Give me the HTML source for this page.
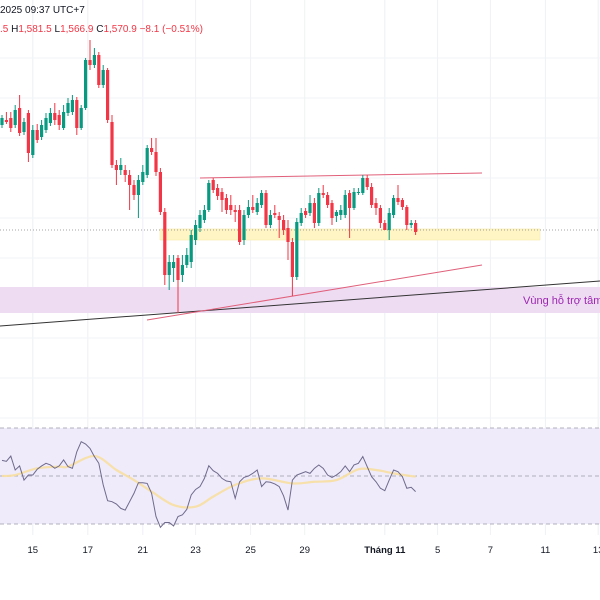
<!DOCTYPE html>
<html><head><meta charset="utf-8">
<style>
html,body{margin:0;padding:0;background:#fff;}
body{width:600px;height:600px;overflow:hidden;font-family:"Liberation Sans",sans-serif;}
svg{display:block}
</style></head>
<body>
<svg id="chart" width="600" height="600" viewBox="0 0 600 600" xmlns="http://www.w3.org/2000/svg">
  <rect x="0" y="0" width="600" height="600" fill="#ffffff"/>
  <g id="grid"></g>
  <rect x="0" y="287" width="600" height="26" fill="#eedcf3"/>
  <text x="523" y="304" font-size="11" fill="#9c27b0">Vùng hỗ trợ tâm</text>
  <rect x="160" y="229" width="380" height="11" fill="#fff5c4" stroke="#f5e9a8" stroke-width="0.6"/>
  <line x1="0" y1="230" x2="600" y2="230" stroke="#888" stroke-width="0.8" stroke-dasharray="1,2"/>
  <line x1="0" y1="326" x2="600" y2="281" stroke="#333" stroke-width="1"/>
  <line x1="147" y1="320" x2="482" y2="265" stroke="#e0607a" stroke-width="1"/>
  <line x1="200" y1="178" x2="482" y2="173" stroke="#e0607a" stroke-width="1"/>
  <g id="candles"></g>
  <text x="0" y="13" font-size="10" fill="#131722">2025 09:37 UTC+7</text>
  <text x="0" y="32" font-size="10" fill="#131722"><tspan fill="#f23645">.5</tspan>  H<tspan fill="#f23645">1,581.5</tspan>  L<tspan fill="#f23645">1,566.9</tspan>  C<tspan fill="#f23645">1,570.9</tspan>  <tspan fill="#f23645">−8.1 (−0.51%)</tspan></text>
  <rect x="0" y="428" width="600" height="96" fill="#efebfa"/>
  <g id="rsi"></g>
  <g id="xaxis"></g>
</svg>
<script>
const opens=[1675,1680,1682,1675,1692,1668,1687,1645,1670,1663,1670,1677,1687,1685,1672,1687,1688,1700,1672,1692,1740,1735,1745,1715,1730,1678,1635,1630,1630,1625,1615,1605,1618,1625,1652,1648,1628,1588,1525,1532,1542,1525,1535,1538,1560,1572,1580,1590,1620,1612,1608,1602,1595,1590,1590,1560,1585,1593,1588,1595,1607,1575,1587,1584,1580,1572,1558,1523,1577,1589,1587,1597,1577,1607,1605,1597,1584,1585,1585,1607,1592,1607,1607,1622,1613,1597,1592,1577,1570,1585,1602,1600,1593,1575,1577];
const closes=[1682,1678,1672,1690,1667,1678,1647,1670,1660,1675,1682,1687,1680,1675,1688,1697,1700,1672,1692,1740,1735,1745,1715,1730,1680,1635,1630,1635,1625,1615,1605,1620,1628,1652,1648,1628,1588,1525,1538,1538,1520,1535,1545,1565,1575,1585,1590,1617,1610,1604,1600,1590,1590,1588,1558,1585,1593,1590,1597,1607,1575,1585,1585,1580,1570,1558,1523,1578,1587,1585,1597,1577,1607,1605,1595,1582,1588,1590,1605,1592,1608,1608,1622,1613,1595,1592,1577,1570,1587,1602,1598,1593,1575,1577,1568];
const highs=[1685,1688,1688,1695,1705,1682,1690,1675,1676,1680,1687,1692,1697,1690,1695,1702,1705,1703,1695,1742,1760,1752,1748,1735,1732,1685,1640,1642,1635,1630,1620,1625,1635,1655,1662,1662,1632,1592,1545,1545,1545,1545,1552,1570,1580,1590,1595,1620,1622,1616,1612,1606,1605,1595,1595,1590,1600,1605,1602,1610,1610,1590,1595,1588,1585,1580,1562,1582,1592,1592,1605,1602,1612,1615,1608,1600,1590,1595,1610,1610,1612,1612,1625,1625,1617,1602,1595,1580,1592,1605,1615,1602,1595,1580,1580];
const lows=[1672,1676,1668,1672,1664,1665,1638,1642,1657,1660,1667,1674,1675,1670,1670,1684,1685,1665,1670,1690,1730,1732,1712,1712,1677,1632,1615,1625,1618,1590,1600,1582,1615,1622,1645,1624,1585,1515,1510,1518,1487,1518,1532,1532,1555,1568,1577,1588,1607,1600,1588,1586,1585,1578,1555,1555,1582,1587,1585,1592,1572,1572,1582,1562,1565,1540,1504,1520,1574,1582,1584,1572,1574,1602,1592,1575,1578,1580,1582,1562,1590,1605,1605,1610,1592,1585,1572,1570,1560,1582,1595,1590,1570,1572,1565];
const rsiValues=[56.5,56.1,58.3,52.5,54.2,48.3,50.4,50.4,52.8,54.2,55.3,54.6,53.2,54.2,56.7,53.9,53.2,60.1,64.3,63.3,61.5,58.1,55.3,46.3,39.7,39.3,38.3,36.5,35.8,39.3,42.8,47.2,47.2,46.9,42.8,33.1,28.6,30.6,30.6,29.2,33.1,33.8,36.1,42.1,44.4,45.6,49.0,54.3,52.2,51.1,49.0,47.9,47.6,40.7,47.6,49.4,50.0,51.1,52.5,45.6,47.6,47.4,46.7,45.6,41.7,35.8,48.3,50.4,51.1,51.8,51.1,53.2,54.6,53.2,50.4,49.4,50.4,51.8,54.2,51.8,54.6,55.3,58.1,53.9,49.7,47.6,44.9,43.9,48.3,52.5,51.8,49.7,44.9,45.3,43.5];
const maIdx=[0,3,8,13,15,21,26,30,34,39,44,48,53,59,66,71,76,81,85,89,94];
const maValues=[50,50.4,53.2,53.9,53.9,58.3,52.5,48.3,43.5,37.9,37.2,41.4,46.3,49.0,46.9,47.6,48.3,52.8,52.5,51.1,49.7];
const rsiLevels=[70,50,30];
const tickLabels=["15","17","21","23","25","29","Tháng 11","5","7","11","13"];
const tickIdx=[7,19.5,32,44,56.5,68.8,87,99,111,123.5,135.5];

const NS="http://www.w3.org/2000/svg";
const xScale=i=>2+i*4.4;
const yScale=p=>1800-p;
const rsiY=v=>476-(v-50)*2.4;
function mk(tag,attrs,parent){const e=document.createElementNS(NS,tag);for(const k in attrs)e.setAttribute(k,attrs[k]);parent.appendChild(e);return e;}

const grid=document.getElementById('grid');
tickIdx.forEach((t,k)=>{
  const l=mk('line',{x1:xScale(t),x2:xScale(t),y1:0,y2:535,stroke:'#eef0f4','stroke-width':1},grid);
  
  
});
for(let y=58;y<=418;y+=40){
  const l=mk('line',{x1:0,x2:600,y1:y,y2:y,stroke:'#f2f3f6','stroke-width':1},grid);
  
  
}

const cg=document.getElementById('candles');
opens.forEach((o,i)=>{
  const c=closes[i],up=c>=o,col=up?'#089981':'#f23645',x=xScale(i);
  const g=mk('g',{},cg);
  
  
  mk('line',{x1:x,x2:x,y1:yScale(highs[i]),y2:yScale(lows[i]),stroke:col,'stroke-width':1},g);
  const top=yScale(Math.max(o,c)),h=Math.max(1,Math.abs(o-c));
  mk('rect',{x:x-1.6,y:top,width:3.2,height:h,fill:col},g);
});

const rg=document.getElementById('rsi');
rsiLevels.forEach(v=>{
  const l=mk('line',{x1:0,x2:600,y1:rsiY(v),y2:rsiY(v),stroke:'#9a98a8','stroke-width':0.8,'stroke-dasharray':'4,3'},rg);
  
  
});
// MA smooth curve (catmull-rom)
const mp=maIdx.map((t,k)=>[xScale(t),rsiY(maValues[k])]);
let d='M'+mp[0][0]+','+mp[0][1];
for(let k=0;k<mp.length-1;k++){
  const p0=mp[Math.max(0,k-1)],p1=mp[k],p2=mp[k+1],p3=mp[Math.min(mp.length-1,k+2)];
  const c1=[p1[0]+(p2[0]-p0[0])/6,p1[1]+(p2[1]-p0[1])/6],c2=[p2[0]-(p3[0]-p1[0])/6,p2[1]-(p3[1]-p1[1])/6];
  d+=' C'+c1+' '+c2+' '+p2;
}
const ma=mk('path',{d:d,fill:'none',stroke:'#f7dfa0','stroke-width':2.2,opacity:0.9},rg);


const rl=mk('polyline',{points:rsiValues.map((v,i)=>xScale(i)+','+rsiY(v)).join(' '),fill:'none',stroke:'#6f6a8c','stroke-width':1},rg);



const xa=document.getElementById('xaxis');
tickLabels.forEach((s,k)=>{
  const t=mk('text',{x:xScale(tickIdx[k]),y:553,'font-size':9.5,'text-anchor':'middle',fill:'#131722','font-weight':s.length>2?'bold':'normal'},xa);
  t.textContent=s;
  
  
});
</script>
</body></html>
